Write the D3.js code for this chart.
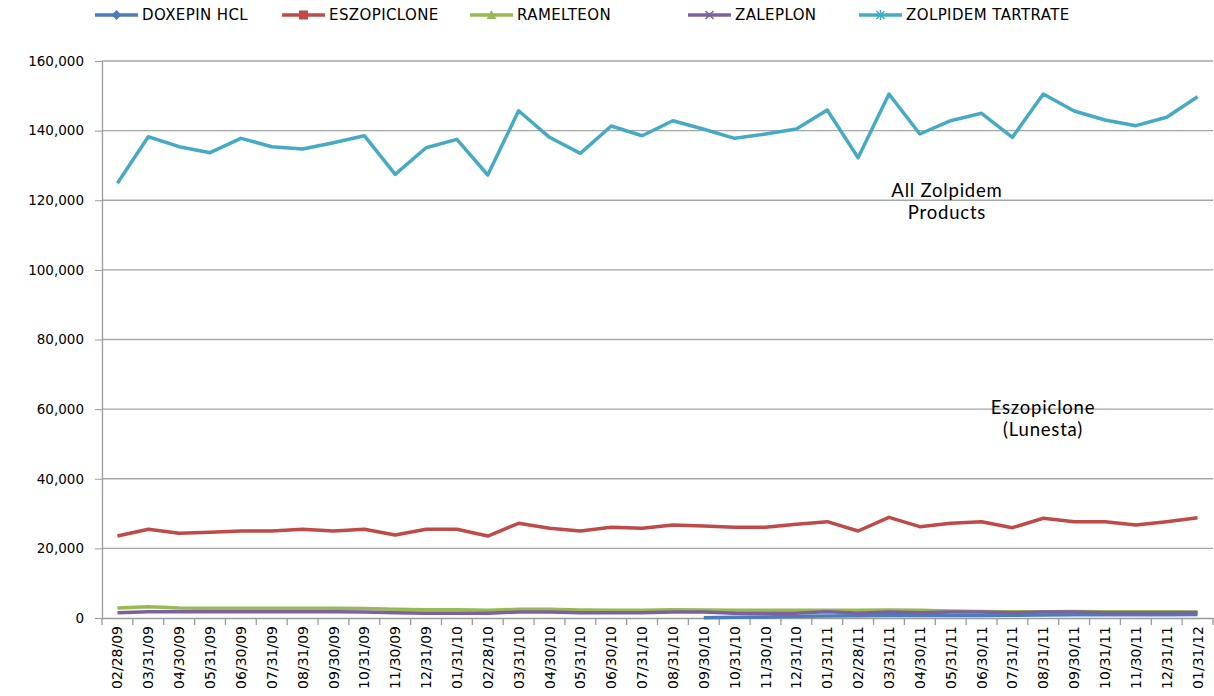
<!DOCTYPE html>
<html>
<head>
<meta charset="utf-8">
<script src="https://cdn.jsdelivr.net/npm/d3@7"></script>
<style>
  body { margin: 0; background: #fff; }
  svg { display: block; }
  .axis text { font-family: "DejaVu Sans", sans-serif; fill: #000; }
  .axis path, .axis line { stroke: #9a9a9a; }
</style>
</head>
<body>
<div id="svganchor"></div>
<script>
let width = 1214, height = 696;

let margin = ({top: 61, right: 1, bottom: 78, left: 102});

// month-end dates on the x axis
let months = ["02/28/09", "03/31/09", "04/30/09", "05/31/09", "06/30/09", "07/31/09",
    "08/31/09", "09/30/09", "10/31/09", "11/30/09", "12/31/09", "01/31/10",
    "02/28/10", "03/31/10", "04/30/10", "05/31/10", "06/30/10", "07/31/10",
    "08/31/10", "09/30/10", "10/31/10", "11/30/10", "12/31/10", "01/31/11",
    "02/28/11", "03/31/11", "04/30/11", "05/31/11", "06/30/11", "07/31/11",
    "08/31/11", "09/30/11", "10/31/11", "11/30/11", "12/31/11", "01/31/12"];

let yTicks = [0, 20000, 40000, 60000, 80000, 100000, 120000, 140000, 160000];

// doxepin starts in 09/2010
let doxepin = [null, null, null, null, null, null, null, null, null, null, null, null,
    null, null, null, null, null, null, null, 100, 200, 300, 500, 600,
    650, 700, 700, 700, 750, 800, 850, 900, 900, 950, 950, 1000];

let eszopiclone = [23550, 25470, 24320, 24610, 24990, 24990, 25470, 24990, 25470, 23840, 25470, 25470,
    23550, 27200, 25770, 24990, 26050, 25770, 26710, 26430, 26050, 26050, 26910, 27670,
    24990, 28920, 26230, 27200, 27670, 25940, 28640, 27670, 27670, 26710, 27670, 28810];

let ramelteon = [2900, 3200, 2900, 2800, 2800, 2800, 2800, 2800, 2700, 2500, 2400, 2400,
    2200, 2500, 2500, 2300, 2200, 2200, 2400, 2300, 2200, 2200, 2200, 2200,
    2200, 2300, 2200, 2000, 1900, 1800, 1800, 1900, 1800, 1800, 1800, 1700];

let zaleplon = [1500, 1800, 1800, 1800, 1800, 1800, 1800, 1800, 1700, 1500, 1400, 1400,
    1400, 1700, 1700, 1500, 1500, 1500, 1700, 1700, 1400, 1300, 1400, 1800,
    1400, 1700, 1500, 1700, 1700, 1500, 1700, 1700, 1500, 1500, 1500, 1600];

let zolpidem = [124870, 138250, 135380, 133660, 137790, 135380, 134720, 136530, 138540, 127450, 135090, 137500,
    127250, 145720, 138080, 133480, 141330, 138540, 142850, 140380, 137790, 139030, 140470, 145920,
    132230, 150520, 139030, 142850, 144970, 138080, 150520, 145640, 143050, 141420, 143830, 149740];

let seriesNames = ["DOXEPIN HCL", "ESZOPICLONE", "RAMELTEON", "ZALEPLON", "ZOLPIDEM TARTRATE"];
let seriesValues = [doxepin, eszopiclone, ramelteon, zaleplon, zolpidem];
let seriesColors = ["#4a7ebb", "#be4b48", "#98b954", "#7d60a0", "#46aac5"];
let seriesMarkers = ["diamond", "square", "triangle", "cross", "star"];

let svg = d3.select("#svganchor")
    .append("svg")
    .attr("width", width)
    .attr("height", height);

let xScale = d3.scaleBand()
    .domain(months)
    .range([margin.left, width - margin.right])
    .padding(0);

let yScale = d3.scaleLinear()
    .domain([0, 160000])
    .range([height - margin.bottom, margin.top]);

function xMid(m) {
    return xScale(m) + xScale.bandwidth() / 2;
}

// gridlines
svg.append("g")
    .selectAll("line")
    .data(yTicks.slice(1))
    .enter()
    .append("line")
    .attr("x1", margin.left)
    .attr("x2", width - margin.right)
    .attr("y1", function(d) { return yScale(d); })
    .attr("y2", function(d) { return yScale(d); })
    .attr("stroke", "#a6a6a6")
    .attr("stroke-width", 1.3);

let yAxis = d3.axisLeft(yScale)
    .tickValues(yTicks)
    .tickFormat(d3.format(","))
    .tickSizeInner(7)
    .tickSizeOuter(0)
    .tickPadding(11);

let gY = svg.append("g")
    .attr("class", "y axis")
    .attr("transform", `translate(${margin.left},0)`)
    .call(yAxis);

gY.selectAll("text").attr("font-size", 13.5);
gY.select(".domain").attr("stroke-width", 1.3);

let xAxis = d3.axisBottom(xScale)
    .tickSize(0)
    .tickSizeOuter(0)
    .tickPadding(0);

let gX = svg.append("g")
    .attr("class", "x axis")
    .attr("transform", `translate(0,${height - margin.bottom})`)
    .call(xAxis);

gX.select(".domain").attr("stroke-width", 1.3);

gX.selectAll("text")
    .attr("font-size", 14)
    .attr("text-anchor", "end")
    .attr("transform", "rotate(-90)")
    .attr("x", -8)
    .attr("y", 0)
    .attr("dy", "0.36em");

// tick marks between categories
gX.selectAll(".bound")
    .data(months.concat(["end"]))
    .enter()
    .append("line")
    .attr("class", "bound")
    .attr("x1", function(d, i) { return margin.left + i * xScale.bandwidth(); })
    .attr("x2", function(d, i) { return margin.left + i * xScale.bandwidth(); })
    .attr("y1", 0)
    .attr("y2", 7)
    .attr("stroke", "#9a9a9a")
    .attr("stroke-width", 1.3);

let line = d3.line()
    .defined(function(d) { return d != null; })
    .x(function(d, i) { return xMid(months[i]); })
    .y(function(d) { return yScale(d); });

svg.append("g")
    .selectAll("path")
    .data(seriesValues)
    .enter()
    .append("path")
    .attr("d", line)
    .attr("fill", "none")
    .attr("stroke", function(d, i) { return seriesColors[i]; })
    .attr("stroke-width", 3.5)
    .attr("stroke-linejoin", "round");

// annotations
let notes = [
    {lines: ["All Zolpidem", "Products"], x: 947, y: 197},
    {lines: ["Eszopiclone", "(Lunesta)"], x: 1043, y: 414}
];

notes.forEach(function(n) {
    let t = svg.append("text")
        .attr("text-anchor", "middle")
        .attr("font-family", "Lato, sans-serif")
        .attr("font-size", 18.5)
        .attr("letter-spacing", 0.8)
        .attr("fill", "#000");
    n.lines.forEach(function(s, i) {
        t.append("tspan")
            .attr("x", n.x)
            .attr("y", n.y + i * 22)
            .text(s);
    });
});

// legend
let legendX = [95, 282, 470, 688, 859];

let legend = svg.append("g")
    .attr("class", "legend");

seriesNames.forEach(function(name, i) {
    let g = legend.append("g")
        .attr("transform", `translate(${legendX[i]},15)`);
    let c = seriesColors[i];
    g.append("line")
        .attr("x1", 0)
        .attr("x2", 43)
        .attr("stroke", c)
        .attr("stroke-width", 3.5);
    let m = seriesMarkers[i];
    if (m === "diamond") {
        g.append("path").attr("d", "M21.5,-5L26.5,0L21.5,5L16.5,0Z").attr("fill", c);
    } else if (m === "square") {
        g.append("rect").attr("x", 17).attr("y", -4.5).attr("width", 9).attr("height", 9).attr("fill", c);
    } else if (m === "triangle") {
        g.append("path").attr("d", "M21.5,-5L26.5,4L16.5,4Z").attr("fill", c);
    } else if (m === "cross") {
        g.append("path").attr("d", "M17.5,-4L25.5,4M25.5,-4L17.5,4")
            .attr("stroke", c).attr("stroke-width", 1.5);
    } else {
        g.append("path").attr("d", "M17.5,-4L25.5,4M25.5,-4L17.5,4M21.5,-5L21.5,5")
            .attr("stroke", c).attr("stroke-width", 1.5);
    }
    g.append("text")
        .attr("x", 47)
        .attr("y", 0)
        .attr("dy", "0.36em")
        .attr("font-family", "DejaVu Sans, sans-serif")
        .attr("font-size", 15)
        .attr("letter-spacing", 0.4)
        .attr("fill", "#000")
        .text(name);
});
</script>
</body>
</html>
